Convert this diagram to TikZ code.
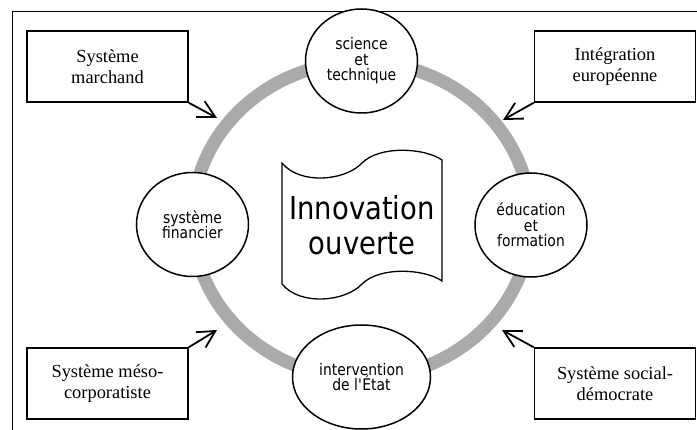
\documentclass[tikz,border=0pt]{standalone}
\usepackage{fontspec}
\setmainfont{Liberation Serif}
\newfontfamily\polefont[FakeStretch=0.87]{DejaVu Sans}
\definecolor{ringgray}{RGB}{170,170,170}
\usetikzlibrary{shapes,arrows.meta,positioning,calc}

\tikzset{
    systembox/.style={draw, line width=1.5pt, minimum width=161pt, minimum height=71pt,
        inner sep=0pt, align=center, font=\fontsize{18.4}{21}\selectfont},
    pole/.style={draw, ellipse, fill=white, line width=1.5pt, minimum width=112pt,
        minimum height=104pt, inner sep=0pt, align=center,
        font=\polefont\fontsize{16}{15.5}\selectfont},
    influence/.style={line width=1.8pt,
        -{Straight Barb[length=17pt,width=18pt,line width=1.8pt]}}
}

\begin{document}
\begin{tikzpicture}[x=1pt, y=-1pt]
            \useasboundingbox (0,0) rectangle (697,430);
            % outer frame, open to the right and bottom
            \draw[line width=1.8pt] (12.5,430) |- (697,11.5);

            % grey ring behind the four poles
            \coordinate (ring) at (361.5,220);
            \draw[ringgray, line width=13pt] (ring) ellipse [x radius=169, y radius=158];

            % the four poles
            \node[pole] (science) at (361.5,61) {science\\et\\technique};
            \node[pole] (education) at (531,225) {éducation\\et\\formation};
            \node[pole, minimum width=138pt] (etat) at (361.5,377) {intervention\\de l\textquotesingle État};
            \node[pole] (finance) at (192.5,224.5) {système\\financier};

            % scroll in the middle
            \draw[line width=1.3pt, fill=white] (282,163)
                .. controls (300,185) and (345,181) .. (362,163)
                .. controls (380,145) and (425,148) .. (442,160) -- (442,281)
                .. controls (425,269) and (380,266) .. (362,284)
                .. controls (345,302) and (300,306) .. (282,284) -- cycle;
            \node[align=center, font=\polefont\fontsize{31.5}{35}\selectfont] (innovation)
                at (362,225) {Innovation\\ouverte};

            % the four systems
            \node[systembox] (marchand) at (107.5,66.5) {Système\\marchand};
            \node[systembox] (integration) at (615,66.5) {Intégration\\européenne};
            \node[systembox] (meso) at (107.5,383.5) {Système méso-\\corporatiste};
            \node[systembox] (socialdem) at (615,383.5) {Système social-\\démocrate};

            \coordinate (tipNW) at (217,118);
            \coordinate (tipNE) at (503,120);
            \coordinate (tipSW) at (217,330);
            \coordinate (tipSE) at (502,330);
            \draw[influence] (marchand.south east) -- (tipNW);
            \draw[influence] (integration.south west) -- (tipNE);
            \draw[influence] (meso.north east) -- (tipSW);
            \draw[influence] (socialdem.north west) -- (tipSE);
        \end{tikzpicture}
\end{document}
